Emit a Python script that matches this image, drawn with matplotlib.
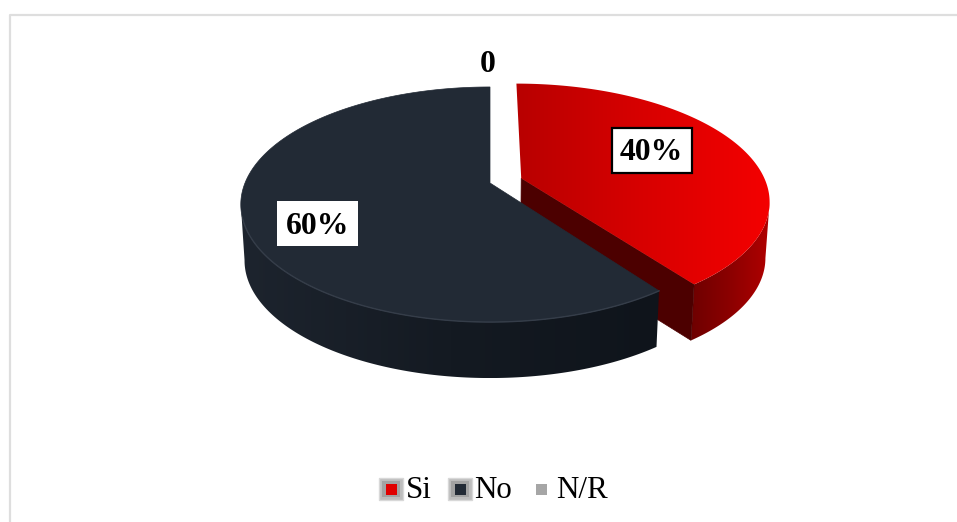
import numpy as np
import matplotlib
matplotlib.use("Agg")
import matplotlib.pyplot as plt
from matplotlib.colors import LinearSegmentedColormap
from matplotlib.patches import Polygon, Rectangle

categories = ["Si", "No", "N/R"]
shares = [40, 60, 0]
value_labels = ["40%", "60%", "0"]
top_colors = ["#e00000", "#222a35", "#a6a6a6"]
explode = [0.135, 0.0, 0.0]

W, H = 957, 522
CX, CY = 490, 183
A, B, K = 245, 113.6, 0.183
DEPTH = 56
SHRINK = 0.985


def project(u, v):
    d = 1 + K * v
    return CX + A * u / d, CY - B * v / d


def lower(x, y):
    return CX + (x - CX) * SHRINK, y + DEPTH


def slice_rim(start, stop, offset):
    # clockwise from twelve o'clock, pushed out along the slice's middle
    mid = np.radians((start + stop) / 2)
    du, dv = offset * np.sin(mid), offset * np.cos(mid)
    t = np.radians(np.linspace(start, stop, 240))
    rx, ry = project(np.sin(t) + du, np.cos(t) + dv)
    ax0, ay0 = project(du, dv)
    return rx, ry, ax0, ay0


def gradient_fill(ax, pts, colors, z):
    # horizontal colour ramp clipped to a polygon
    pts = np.asarray(pts)
    cmap = LinearSegmentedColormap.from_list("ramp", colors)
    clip = Polygon(pts, closed=True, fc="none", ec="none", zorder=z)
    ax.add_patch(clip)
    grad = np.linspace(0, 1, 256).reshape(1, -1)
    im = ax.imshow(grad, cmap=cmap, aspect="auto", zorder=z,
                   extent=[pts[:, 0].min(), pts[:, 0].max(), pts[:, 1].max(), pts[:, 1].min()])
    im.set_clip_path(clip)


def outer_wall(ax, rx, ry, colors, z):
    bx, by = lower(rx, ry)
    pts = np.column_stack([np.r_[rx, bx[::-1]], np.r_[ry, by[::-1]]])
    gradient_fill(ax, pts, colors, z)


fig = plt.figure(figsize=(W / 100, H / 100), dpi=100)
ax = fig.add_axes([0, 0, 1, 1])
ax.axis("off")

# outer frame, only top and left fall inside the canvas
ax.plot([9.5, 9.5, W + 5], [H + 5, 15, 15], color="#dedede", lw=1.6, zorder=1)

start = 0
for i, share in enumerate(shares):
    stop = start + share / sum(shares) * 360
    if share == 0:
        start = stop
        continue
    rx, ry, ax0, ay0 = slice_rim(start, stop, explode[i])
    outline = np.column_stack([np.r_[ax0, rx], np.r_[ay0, ry]])
    if i == 0:
        # only the part of the rim past the rightmost point faces the viewer
        front = np.argmax(rx)
        outer_wall(ax, rx[front:], ry[front:], ["#6e0000", "#8c0000", "#b00000"], 2)
        bax, bay = lower(ax0, ay0)
        bex, bey = lower(rx[-1], ry[-1])
        ax.add_patch(Polygon([(ax0, ay0), (rx[-1], ry[-1]), (bex, bey), (bax, bay)], closed=True,
                             fc="#4c0000", ec="#4c0000", lw=0.5, zorder=2.5))
        gradient_fill(ax, outline, ["#b80000", "#d80000", "#f40000"], 3)
    else:
        back = np.argmin(rx)
        outer_wall(ax, rx[:back + 1], ry[:back + 1], ["#1d242e", "#141a22", "#0f141b"], 4)
        ax.add_patch(Polygon(outline, closed=True, fc=top_colors[i], ec=top_colors[i], lw=0.5, zorder=5))
        # pale bevel along the front of the rim
        keep = (np.degrees(np.arctan2(rx - CX, CY - ry)) % 360) < 262
        ax.plot(rx[keep], ry[keep], color="#353d49", lw=1.0, zorder=5.5)
    start = stop

# value labels
ax.add_patch(Rectangle((611.5, 127.5), 80, 45, fc="white", ec="black", lw=1.6, zorder=6))
ax.text(651, 153, value_labels[0], family="Liberation Serif", weight="bold", fontsize=22.8,
        ha="center", va="center", zorder=7)
ax.add_patch(Rectangle((277, 201), 81, 45, fc="white", ec="none", zorder=6))
ax.text(317.5, 227, value_labels[1], family="Liberation Serif", weight="bold", fontsize=22.8,
        ha="center", va="center", zorder=7)
ax.text(488, 64, value_labels[2], family="Liberation Serif", weight="bold", fontsize=22.8,
        ha="center", va="center", zorder=7)

# legend keys with their raised grey bezel
key_x = [379, 448]
text_x = [406, 474, 556]
for x, col in zip(key_x, top_colors[:2]):
    ax.add_patch(Rectangle((x, 478), 24, 22, fc="#bdbdbd", ec="#d8d8d8", lw=1, zorder=6))
    ax.add_patch(Rectangle((x + 3, 481), 18, 16, fc="#a2a2a2", ec="none", zorder=6))
    ax.add_patch(Rectangle((x + 7, 484), 11, 11, fc=col, ec="none", zorder=7))
ax.add_patch(Rectangle((536, 484), 11, 10.5, fc=top_colors[2], ec="none", zorder=6))
for x, name in zip(text_x, categories):
    ax.text(x, 491, name, family="Liberation Serif", fontsize=22.3, ha="left", va="center", zorder=7)

ax.set_xlim(0, W)
ax.set_ylim(H, 0)
fig.savefig("out.png", dpi=100, facecolor="white")
